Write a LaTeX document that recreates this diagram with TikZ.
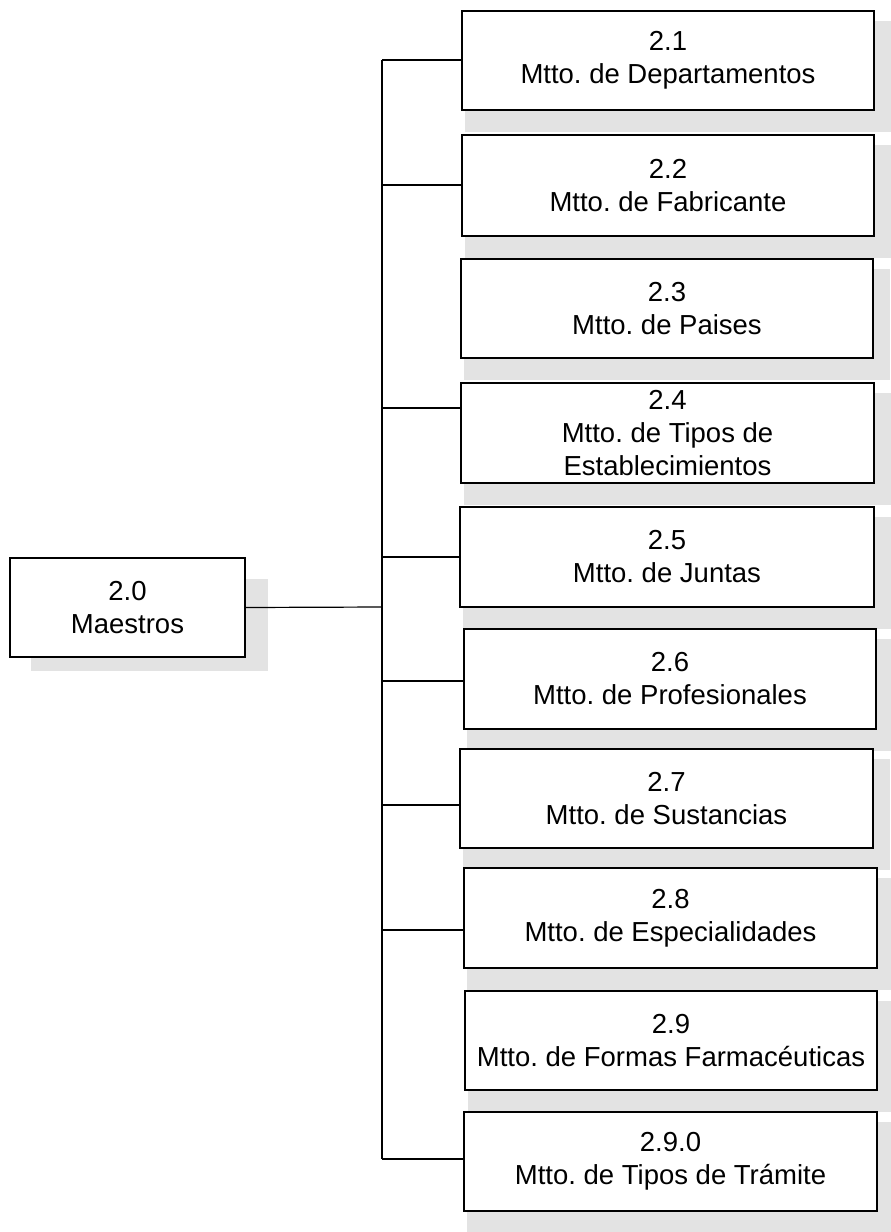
\documentclass[tikz,border=0pt]{standalone}
\usepackage{fontspec}
\setmainfont{Liberation Sans}
\frenchspacing
\usetikzlibrary{backgrounds,calc}

\tikzset{
  menubox/.style={
    draw=black, fill=white, line width=1.2pt, inner sep=0pt,
    align=center, font=\fontsize{27.5}{33}\selectfont
  },
  boxshade/.style={fill=black!11},
  link/.style={draw=black, line width=1.2pt}
}

% place a box from its left/top/right/bottom edges (y grows downward),
% with a soft shade spilling out below and to the right
\newcommand{\menuitem}[6]{%
  \node[menubox, minimum width={(#4)-(#2)}, minimum height={(#5)-(#3)}]
    (#1) at ({((#2)+(#4))/2},{((#3)+(#5))/2}) {#6};%
  \begin{scope}[on background layer]
    \fill[boxshade] ($(#1.north west)+(4,11)$) rectangle ($(#1.south east)+(16,21)$);
  \end{scope}%
}

\begin{document}
\begin{tikzpicture}[x=1pt,y=-1pt]
  \useasboundingbox (0,0) rectangle (891,1232);

  % root of the menu tree
  \node[menubox, minimum width=235, minimum height=99] (m) at (127.5,607.5) {2.0\\Maestros};
  \begin{scope}[on background layer]
    \fill[boxshade] ($(m.north west)+(22,22)$) rectangle ($(m.south east)+(22,13)$);
  \end{scope}

  % sub-menu entries
  \menuitem{b1}{462}{11}{874}{110}{2.1\\Mtto. de Departamentos}
  \menuitem{b2}{462}{135}{874}{236}{2.2\\Mtto. de Fabricante}
  \menuitem{b3}{461}{259}{873}{358}{2.3\\Mtto. de Paises}
  \menuitem{b4}{461}{383}{874}{483}{2.4\\Mtto. de Tipos de\\Establecimientos}
  \menuitem{b5}{460}{507}{874}{607}{2.5\\Mtto. de Juntas}
  \menuitem{b6}{464}{629}{876}{729}{2.6\\Mtto. de Profesionales}
  \menuitem{b7}{460}{749}{873}{848}{2.7\\Mtto. de Sustancias}
  \menuitem{b8}{464}{868}{877}{968}{2.8\\Mtto. de Especialidades}
  \menuitem{b9}{465}{991}{877}{1090}{2.9\\Mtto. de Formas Farmacéuticas}
  \menuitem{b10}{464}{1112}{877}{1211}{2.9.0\\Mtto. de Tipos de Trámite}

  % junctions on the vertical trunk
  \coordinate (j0)  at (382,607);
  \coordinate (j1)  at (382,60);
  \coordinate (j2)  at (382,185);
  \coordinate (j4)  at (382,408);
  \coordinate (j5)  at (382,557);
  \coordinate (j6)  at (382,681);
  \coordinate (j7)  at (382,805);
  \coordinate (j8)  at (382,930);
  \coordinate (j10) at (382,1159);

  % trunk and branches
  \draw[link] (j1) -- (j10);
  \draw[link] (m.east) -- (j0);
  \draw[link] (j1) -- (j1 -| b1.west);
  \draw[link] (j2) -- (j2 -| b2.west);
  \draw[link] (j4) -- (j4 -| b4.west);
  \draw[link] (j5) -- (j5 -| b5.west);
  \draw[link] (j6) -- (j6 -| b6.west);
  \draw[link] (j7) -- (j7 -| b7.west);
  \draw[link] (j8) -- (j8 -| b8.west);
  \draw[link] (j10) -- (j10 -| b10.west);
\end{tikzpicture}
\end{document}
